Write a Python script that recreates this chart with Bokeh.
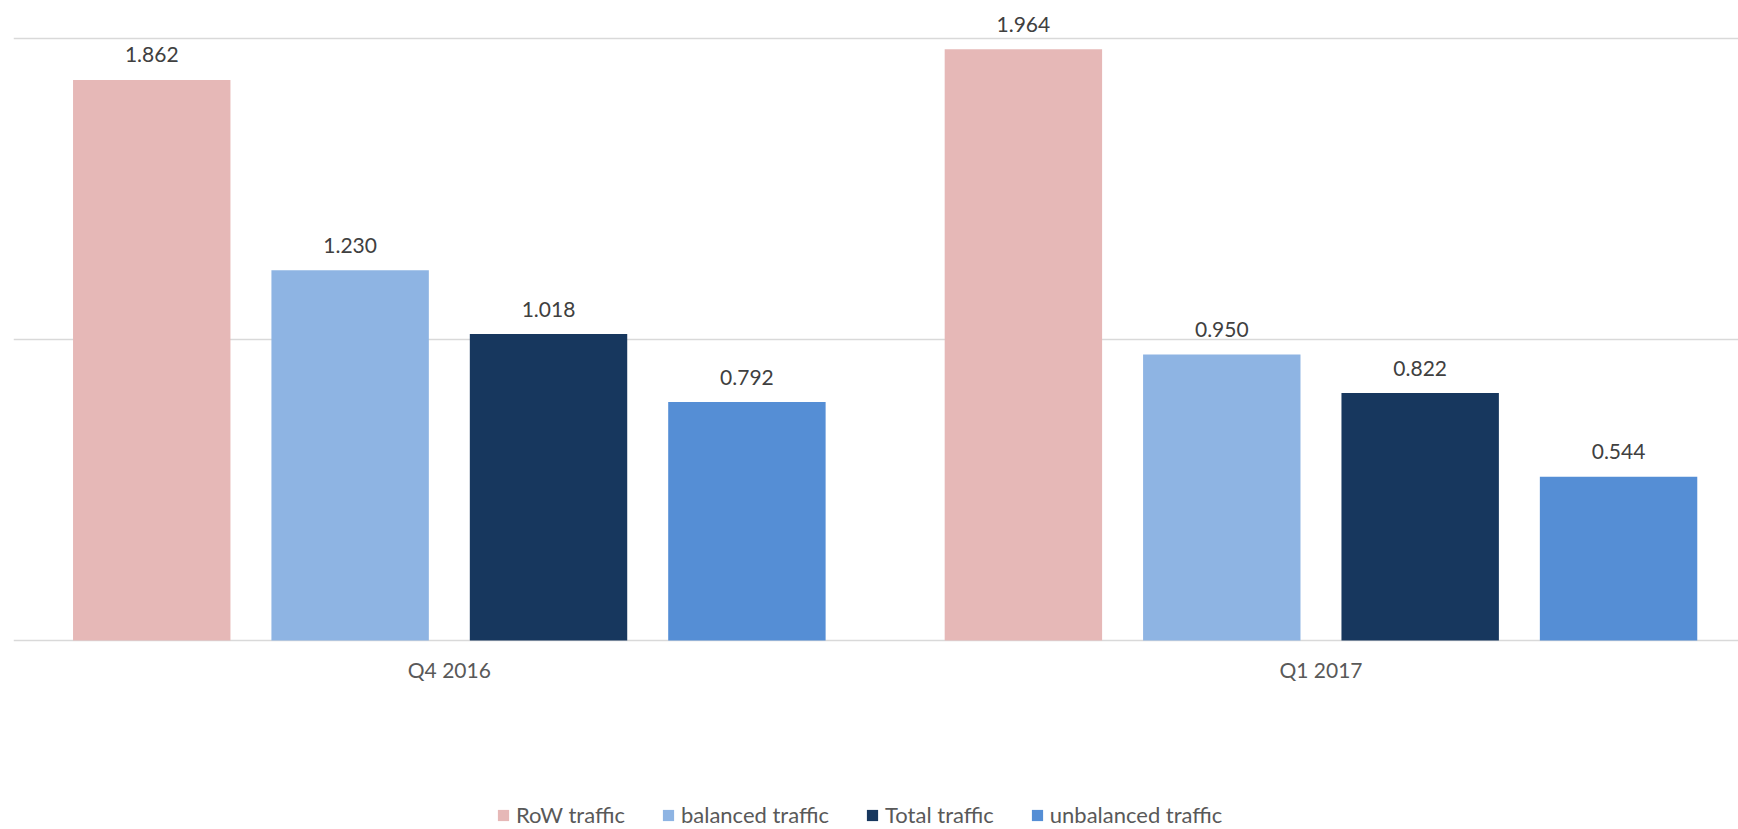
from bokeh.plotting import figure
from bokeh.models import ColumnDataSource, Range1d, FixedTicker, Legend, LegendItem
from bokeh.core.properties import value
from bokeh.embed import file_html
from bokeh.resources import INLINE

quarters = ["Q4 2016", "Q1 2017"]
series = ["RoW traffic", "balanced traffic", "Total traffic", "unbalanced traffic"]
row_traffic = [1.862, 1.964]
balanced_traffic = [1.230, 0.950]
total_traffic = [1.018, 0.822]
unbalanced_traffic = [0.792, 0.544]
values = [row_traffic, balanced_traffic, total_traffic, unbalanced_traffic]
colors = ["#E6B8B7", "#8EB4E3", "#17375E", "#558ED5"]

FONT = value("Lato")
step = 0.2276
bar_w = 0.1806

p = figure(width=1738, height=829, output_backend="svg", toolbar_location=None,
           x_range=Range1d(0, 1.979), y_range=Range1d(-0.628, 2.126),
           min_border_left=13, min_border_right=0, min_border_top=0,
           min_border_bottom=0)
p.outline_line_color = None
p.background_fill_color = "white"

items = []
for k, (name, vals, col) in enumerate(zip(series, values, colors)):
    off = (k - 1.5) * step
    src = ColumnDataSource(dict(
        x=[i + 0.5 + off for i in range(len(quarters))],
        top=vals,
        lab=["%.3f" % v for v in vals],
    ))
    r = p.vbar(x="x", top="top", width=bar_w, bottom=0, source=src,
               fill_color=col, line_color=None)
    p.text(x="x", y="top", text="lab", source=src, text_align="center",
           text_baseline="middle", y_offset=-25, text_font=FONT,
           text_font_size="21px", text_color="#404040")
    items.append(LegendItem(label=name, renderers=[r]))

p.yaxis.visible = False
p.ygrid.ticker = FixedTicker(ticks=[0, 1, 2])
p.ygrid.grid_line_color = "#D9D9D9"
p.ygrid.grid_line_width = 1.5
p.xgrid.visible = False

p.xaxis.fixed_location = 0
p.xaxis.ticker = FixedTicker(ticks=[i + 0.5 for i in range(len(quarters))])
p.xaxis.major_label_overrides = {i + 0.5: q for i, q in enumerate(quarters)}
p.xaxis.axis_line_color = None
p.xaxis.major_tick_line_color = None
p.xaxis.minor_tick_line_color = None
p.xaxis.major_label_standoff = 11
p.xaxis.major_label_text_font = "Lato"
p.xaxis.major_label_text_font_size = "21px"
p.xaxis.major_label_text_color = "#595959"

legend = Legend(items=items, orientation="horizontal", location=(483, 1),
                glyph_width=14, glyph_height=14, label_standoff=6, spacing=36,
                padding=0, margin=0, border_line_color=None,
                background_fill_alpha=0, label_height=20,
                label_text_font="Lato", label_text_font_size="22px",
                label_text_color="#595959")
p.add_layout(legend, "center")

open("out.html", "w").write(file_html(p, INLINE))
